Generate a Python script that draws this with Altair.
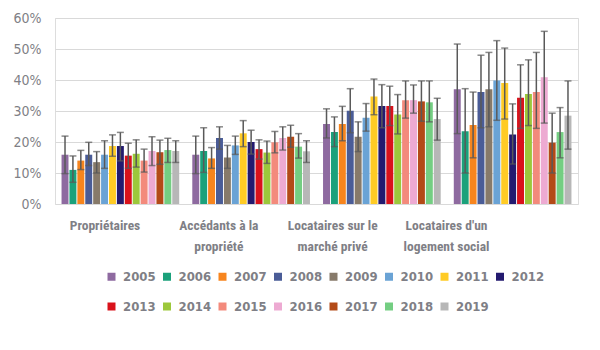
import altair as alt
import pandas as pd

categories = ["Propriétaires", "Accédants à la|propriété", "Locataires sur le|marché privé", "Locataires d'un|logement social"]
years = [str(y) for y in range(2005, 2020)]
colors = ["#8E6AA0", "#1BA17B", "#F7851E", "#4A5C97", "#877A6A", "#6AA3D5", "#FFCB25", "#231A6F",
          "#D9121B", "#9CC83B", "#F38A7C", "#EDAAD2", "#B34A17", "#74CE82", "#B7B7B7"]

# values (%) per category, one per year 2005..2019
val_proprietaires = [15.9, 11.0, 14.0, 15.9, 13.5, 15.9, 18.7, 18.7, 15.6, 16.2, 14.0, 17.1, 16.7, 17.4, 17.1]
val_accedants = [15.9, 17.1, 14.7, 21.3, 15.0, 18.9, 22.8, 20.0, 17.7, 16.6, 19.9, 21.3, 21.7, 18.5, 17.0]
val_prive = [25.8, 23.2, 25.8, 30.1, 21.7, 27.8, 34.7, 31.6, 31.6, 28.9, 33.5, 33.5, 33.1, 32.8, 27.4]
val_social = [37.0, 23.5, 25.5, 36.1, 37.0, 39.8, 39.0, 22.4, 34.3, 35.5, 36.1, 40.9, 19.8, 23.2, 28.5]

low_proprietaires = [9.8, 7.0, 11.1, 12.4, 10.0, 11.5, 15.4, 13.9, 11.5, 11.9, 10.3, 12.4, 12.8, 13.4, 13.4]
high_proprietaires = [21.9, 15.5, 17.3, 19.9, 16.9, 20.4, 22.3, 23.1, 19.6, 20.7, 17.7, 21.7, 20.6, 21.2, 20.4]
low_accedants = [9.8, 10.2, 11.5, 17.7, 11.5, 16.0, 18.5, 16.1, 14.5, 13.1, 16.5, 17.4, 18.3, 14.8, 13.4]
high_accedants = [21.9, 24.6, 18.2, 24.9, 18.9, 21.9, 26.9, 23.8, 20.7, 20.3, 23.4, 24.9, 25.4, 22.7, 20.4]
low_prive = [21.3, 18.5, 20.4, 23.0, 16.9, 23.5, 28.8, 24.6, 25.3, 22.6, 27.7, 29.3, 26.7, 26.5, 20.6]
high_prive = [30.7, 28.1, 31.5, 37.2, 26.5, 32.4, 40.3, 38.5, 38.0, 35.3, 39.7, 38.4, 39.7, 39.7, 34.1]
low_social = [22.7, 10.0, 14.9, 24.6, 24.9, 27.0, 27.4, 12.9, 24.4, 25.3, 24.4, 26.1, 10.0, 14.9, 17.7]
high_social = [51.6, 37.2, 36.1, 48.0, 48.9, 52.7, 50.3, 32.3, 44.9, 46.5, 48.9, 55.7, 29.3, 31.1, 39.7]

y_ticks = [0, 0.1, 0.2, 0.3, 0.4, 0.5, 0.6]

vals = [val_proprietaires, val_accedants, val_prive, val_social]
lows = [low_proprietaires, low_accedants, low_prive, low_social]
highs = [high_proprietaires, high_accedants, high_prive, high_social]

rows = []
for ci, cat in enumerate(categories):
    for yi, yr in enumerate(years):
        rows.append({"cat": cat, "year": yr, "v": vals[ci][yi] / 100,
                     "lo": lows[ci][yi] / 100, "hi": highs[ci][yi] / 100})
df = pd.DataFrame(rows)
df_cat = pd.DataFrame({"cat": categories})

FONT = "Roboto Condensed, DejaVu Sans Condensed, sans-serif"
YFONT = "DejaVu Sans Condensed, sans-serif"
TXT = "#7F7F86"

x_enc = alt.X("cat:N", sort=categories, title=None,
              scale=alt.Scale(paddingInner=0.1, paddingOuter=0.05), axis=None)
xo_enc = alt.XOffset("year:N", sort=years, scale=alt.Scale(paddingInner=0.12))
y_scale = alt.Scale(domain=[0, 0.6])
y_axis = alt.Axis(format=".0%", values=y_ticks, labelOverlap=False,
                  labelFont=YFONT, labelFontSize=14, labelColor=TXT,
                  labelPadding=14, ticks=False, domain=False,
                  gridColor="#D9D9D9", gridWidth=1)

base = alt.Chart(df)

bars = base.mark_bar().encode(
    x=x_enc, xOffset=xo_enc,
    y=alt.Y("v:Q", scale=y_scale, title=None, axis=y_axis),
    color=alt.Color("year:N", sort=years, scale=alt.Scale(domain=years, range=colors),
                    legend=alt.Legend(title=None, orient="none", legendX=50, legendY=252,
                                      direction="horizontal", columns=8,
                                      symbolType="square", symbolSize=64,
                                      symbolStrokeWidth=0, labelFont=YFONT, labelFontSize=13,
                                      labelFontWeight="bold", labelColor=TXT, columnPadding=4.5,
                                      rowPadding=16, labelOffset=5, padding=0)),
)

rule = base.mark_rule(color="#595959", strokeWidth=1.5).encode(
    x=x_enc, xOffset=xo_enc, y=alt.Y("lo:Q", scale=y_scale, title=None, axis=y_axis), y2="hi:Q")
cap_lo = base.mark_tick(color="#595959", thickness=1.5, size=7).encode(
    x=x_enc, xOffset=xo_enc, y=alt.Y("lo:Q", scale=y_scale, title=None, axis=y_axis))
cap_hi = base.mark_tick(color="#595959", thickness=1.5, size=7).encode(
    x=x_enc, xOffset=xo_enc, y=alt.Y("hi:Q", scale=y_scale, title=None, axis=y_axis))

# category labels (placed as in the reference, slightly left of the bar groups)
cat_labels = alt.Chart(df_cat).mark_point(opacity=0).encode(
    x=alt.X("cat:N", sort=categories, title=None,
            scale=alt.Scale(type="point", range=[49.5, 391], padding=0),
            axis=alt.Axis(orient="bottom", labelAngle=0, labelExpr="split(datum.label, '|')",
                          labelFont=FONT, labelFontSize=13.5, labelFontWeight="bold",
                          labelColor=TXT, labelPadding=14, labelLineHeight=21,
                          ticks=False, domain=False, grid=False, labelBaseline="top"))
)

chart = alt.layer(bars, rule, cap_lo, cap_hi, cat_labels).resolve_scale(x="independent").properties(
    width=523, height=186,
    autosize=alt.AutoSizeParams(type="none"),
    padding={"left": 55, "top": 18, "right": 22, "bottom": 146},
).configure_view(stroke=None).configure(background="white")

chart.save("out.html", embed_options={"renderer": "svg", "actions": False})
